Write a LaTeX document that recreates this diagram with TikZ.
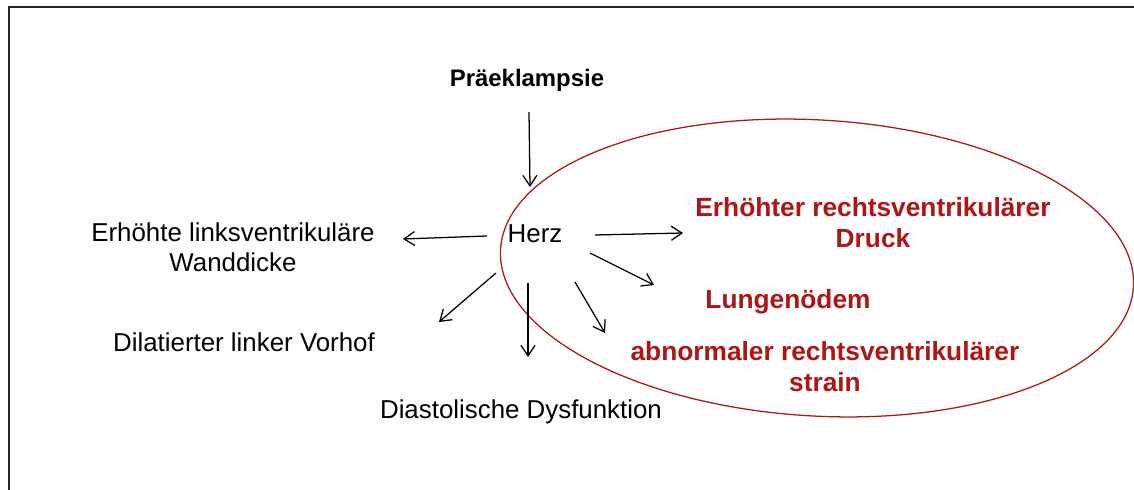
\documentclass[tikz,border=0pt]{standalone}
\usepackage{fontspec}
\setmainfont{Liberation Sans}
\usetikzlibrary{arrows.meta}
\definecolor{dred}{HTML}{B01414}
\definecolor{ered}{HTML}{A81A1A}
\tikzset{
  reg/.style={font=\fontsize{18.4}{21.5}\selectfont, align=center, inner sep=0pt},
  redb/.style={font=\fontsize{18.7}{22}\selectfont\bfseries, text=dred, align=center, inner sep=0pt},
  topb/.style={font=\fontsize{17}{20}\selectfont\bfseries, align=center, inner sep=0pt},
  arr/.style={line width=0.9pt, -{Straight Barb[length=7.5pt,width=10pt,line width=0.9pt]}},
  frame/.style={line width=1.8pt, draw=black!85}
}
\begin{document}
\begin{tikzpicture}[x=0.025cm, y=-0.025cm]
\useasboundingbox (0,0) rectangle (1134,490);
\fill[white] (0,0) rectangle (1134,490);
% frame (only left and top visible)
\draw[frame] (9,495) -- (9,7) -- (1140,7);
% ellipse
\draw[ered, line width=0.9pt, rotate around={-3.4:(817,268)}] (817,268) ellipse [x radius=317, y radius=148];
% nodes
\node[topb] (pre) at (527,80) {Präeklampsie};
\node[reg] (herz) at (535,234) {Herz};
\node[reg] (lvw) at (233,247) {Erhöhte linksventrikuläre\\Wanddicke};
\node[reg] (dlv) at (244,342) {Dilatierter linker Vorhof};
\node[reg] (dd) at (521,412) {Diastolische Dysfunktion};
\node[redb] (rvd) at (873,223) {Erhöhter rechtsventrikulärer\\Druck};
\node[redb] (lo) at (788,302) {Lungenödem};
\node[redb] (rvs) at (825,367) {abnormaler rechtsventrikulärer\\strain};
% connector end points
\coordinate (a1s) at (529,112); \coordinate (a1e) at (530,187);
\coordinate (a2s) at (487,236); \coordinate (a2e) at (403,239);
\coordinate (a3s) at (496,273); \coordinate (a3e) at (439,322);
\coordinate (a4s) at (528,283); \coordinate (a4e) at (528,357);
\coordinate (a5s) at (575,282); \coordinate (a5e) at (605,333);
\coordinate (a6s) at (590,253); \coordinate (a6e) at (654,285);
\coordinate (a7s) at (595,235); \coordinate (a7e) at (683,233);
% connectors
\draw[arr] (a1s) -- (a1e);
\draw[arr] (a2s) -- (a2e);
\draw[arr] (a3s) -- (a3e);
\draw[arr] (a4s) -- (a4e);
\draw[arr] (a5s) -- (a5e);
\draw[arr] (a6s) -- (a6e);
\draw[arr] (a7s) -- (a7e);
\end{tikzpicture}
\end{document}
